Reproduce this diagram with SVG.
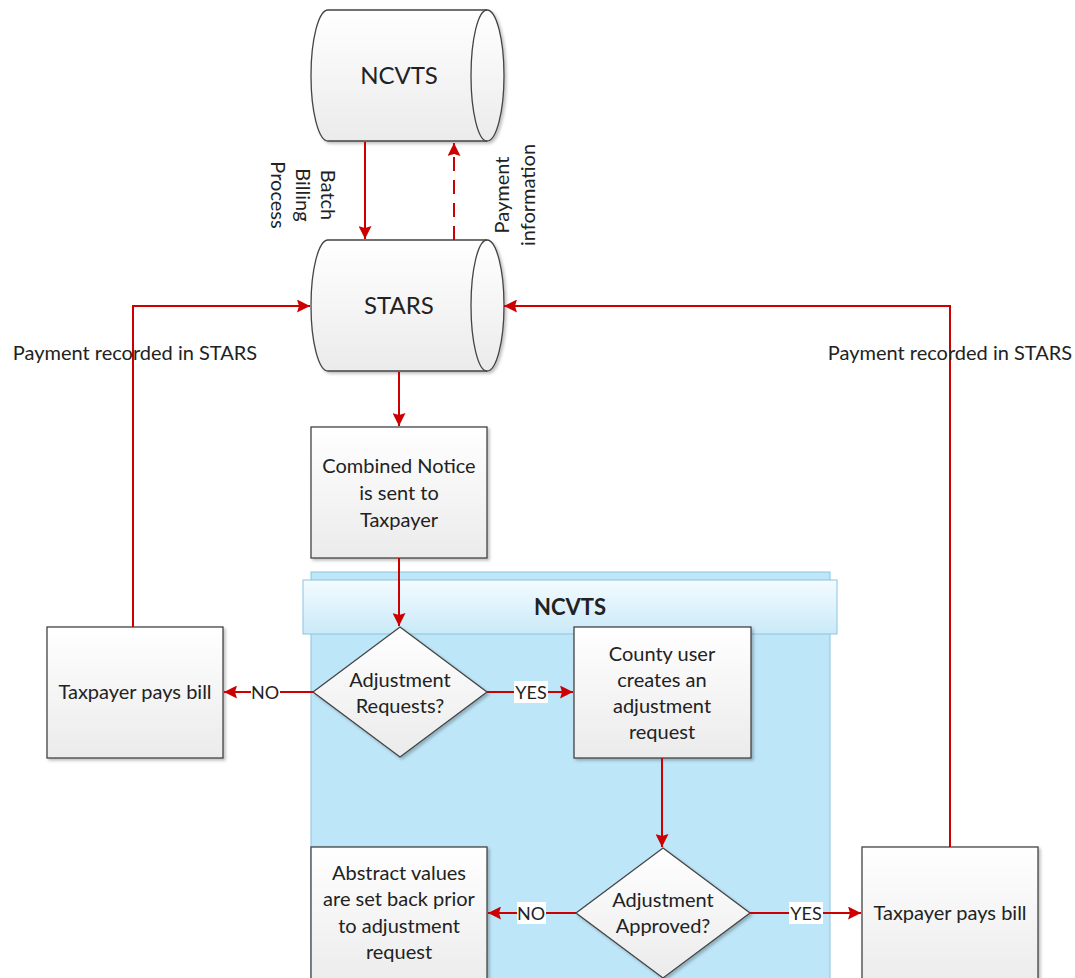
<svg xmlns="http://www.w3.org/2000/svg" width="1075" height="978" viewBox="0 0 1075 978">
<defs>
<linearGradient id="g" x1="0" y1="0" x2="0" y2="1"><stop offset="0" stop-color="#ffffff"/><stop offset="1" stop-color="#ebebeb"/></linearGradient>
<linearGradient id="hdr" x1="0" y1="0" x2="0" y2="1"><stop offset="0" stop-color="#f4fbff"/><stop offset="1" stop-color="#c9eaf8"/></linearGradient>
<filter id="sh" x="-10%" y="-10%" width="130%" height="130%"><feDropShadow dx="2" dy="2" stdDeviation="1.5" flood-color="#000" flood-opacity="0.25"/></filter>
<marker id="ah" markerWidth="13" markerHeight="13" viewBox="0 0 13 13" refX="13" refY="6.5" orient="auto" markerUnits="userSpaceOnUse"><path d="M0,0 L13,6.5 L0,13 L2,6.5 Z" fill="#cc0000"/></marker>
</defs>
<style>
.sh{fill:url(#g);stroke:#444;stroke-width:1.3;filter:url(#sh)}
.t{font-family:Lato,"Open Sans",sans-serif;font-size:20px;fill:#222;text-anchor:middle}
.big{font-size:24px}
.c{fill:none;stroke:#cc0000;stroke-width:2}
.lbl{font-family:Lato,"Open Sans",sans-serif;font-size:20px;fill:#222;text-anchor:middle}
.yn{font-family:Lato,"Open Sans",sans-serif;font-size:18px;fill:#222;text-anchor:middle}
</style>
<rect width="1075" height="978" fill="#fff"/>
<g id="lane">
<rect x="311" y="572" width="519" height="410" fill="#bde6f8" stroke="#8cc4de" stroke-width="1"/>
<rect x="303" y="580" width="534" height="54" fill="url(#hdr)" stroke="#8cc4de" stroke-width="1"/>
<text x="570" y="615" class="t" style="font-weight:bold;font-size:22px">NCVTS</text>
</g>
<g id="n_ncvts">
<path class="sh" d="M328,10 H487 A17,65.5 0 0 1 487,141 H328 A17,65.5 0 0 1 328,10 Z"/>
<path d="M487,10 A16,65.5 0 0 0 487,141" fill="none" stroke="#444" stroke-width="1.3"/>
<text x="399" y="84" class="t big">NCVTS</text>
</g>
<g id="n_stars">
<path class="sh" d="M328,240 H487 A17,65.5 0 0 1 487,371 H328 A17,65.5 0 0 1 328,240 Z"/>
<path d="M487,240 A16,65.5 0 0 0 487,371" fill="none" stroke="#444" stroke-width="1.3"/>
<text x="399" y="314" class="t big">STARS</text>
</g>
<g id="n_notice">
<rect class="sh" x="311" y="427" width="176" height="131"/>
<text class="t" x="399" y="473">Combined Notice</text>
<text class="t" x="399" y="500">is sent to</text>
<text class="t" x="399" y="527">Taxpayer</text>
</g>
<g id="n_req">
<path class="sh" d="M400,627 L487,692 L400,757 L313,692 Z"/>
<text class="t" x="400" y="687">Adjustment</text>
<text class="t" x="400" y="713">Requests?</text>
</g>
<g id="n_pay1">
<rect class="sh" x="47" y="627" width="176" height="131"/>
<text class="t" x="135" y="699">Taxpayer pays bill</text>
</g>
<g id="n_county">
<rect class="sh" x="574" y="627" width="177" height="131"/>
<text class="t" x="662" y="661">County user</text>
<text class="t" x="662" y="687">creates an</text>
<text class="t" x="662" y="713">adjustment</text>
<text class="t" x="662" y="739">request</text>
</g>
<g id="n_appr">
<path class="sh" d="M663,848 L750,913 L663,978 L576,913 Z"/>
<text class="t" x="663" y="907">Adjustment</text>
<text class="t" x="663" y="933">Approved?</text>
</g>
<g id="n_abs">
<rect class="sh" x="311" y="847" width="176" height="140"/>
<text class="t" x="399" y="880">Abstract values</text>
<text class="t" x="399" y="906">are set back prior</text>
<text class="t" x="399" y="933">to adjustment</text>
<text class="t" x="399" y="959">request</text>
</g>
<g id="n_pay2">
<rect class="sh" x="862" y="847" width="176" height="140"/>
<text class="t" x="950" y="920">Taxpayer pays bill</text>
</g>
<g id="connectors">
<path class="c" d="M365,142 V239" marker-end="url(#ah)"/>
<path class="c" d="M454,240 V143" stroke-dasharray="14,9" marker-end="url(#ah)"/>
<path class="c" d="M399,372 V426" marker-end="url(#ah)"/>
<path class="c" d="M399,558 V626" marker-end="url(#ah)"/>
<path class="c" d="M133,627 V306 H310" marker-end="url(#ah)"/>
<path class="c" d="M950,847 V306 H504" marker-end="url(#ah)"/>
<path class="c" d="M313,692 H224" marker-end="url(#ah)"/>
<path class="c" d="M487,692 H573" marker-end="url(#ah)"/>
<path class="c" d="M662,758 V847" marker-end="url(#ah)"/>
<path class="c" d="M576,913 H488" marker-end="url(#ah)"/>
<path class="c" d="M750,913 H861" marker-end="url(#ah)"/>
<rect x="251" y="681" width="29" height="22" fill="#fff"/>
<text class="yn" x="265" y="699">NO</text>
<rect x="514" y="681" width="34" height="22" fill="#fff"/>
<text class="yn" x="531" y="699">YES</text>
<rect x="517" y="902" width="29" height="22" fill="#fff"/>
<text class="yn" x="531" y="920">NO</text>
<rect x="789" y="902" width="34" height="22" fill="#fff"/>
<text class="yn" x="806" y="920">YES</text>
<text class="lbl" x="135" y="360">Payment recorded in STARS</text>
<text class="lbl" x="950" y="360">Payment recorded in STARS</text>
<text class="lbl" transform="translate(303,195) rotate(90)"><tspan x="0" y="-18">Batch</tspan><tspan x="0" y="7">Billing</tspan><tspan x="0" y="32">Process</tspan></text>
<text class="lbl" transform="translate(515,195) rotate(-90)"><tspan x="0" y="-6">Payment</tspan><tspan x="0" y="20">information</tspan></text>
</g>
</svg>
